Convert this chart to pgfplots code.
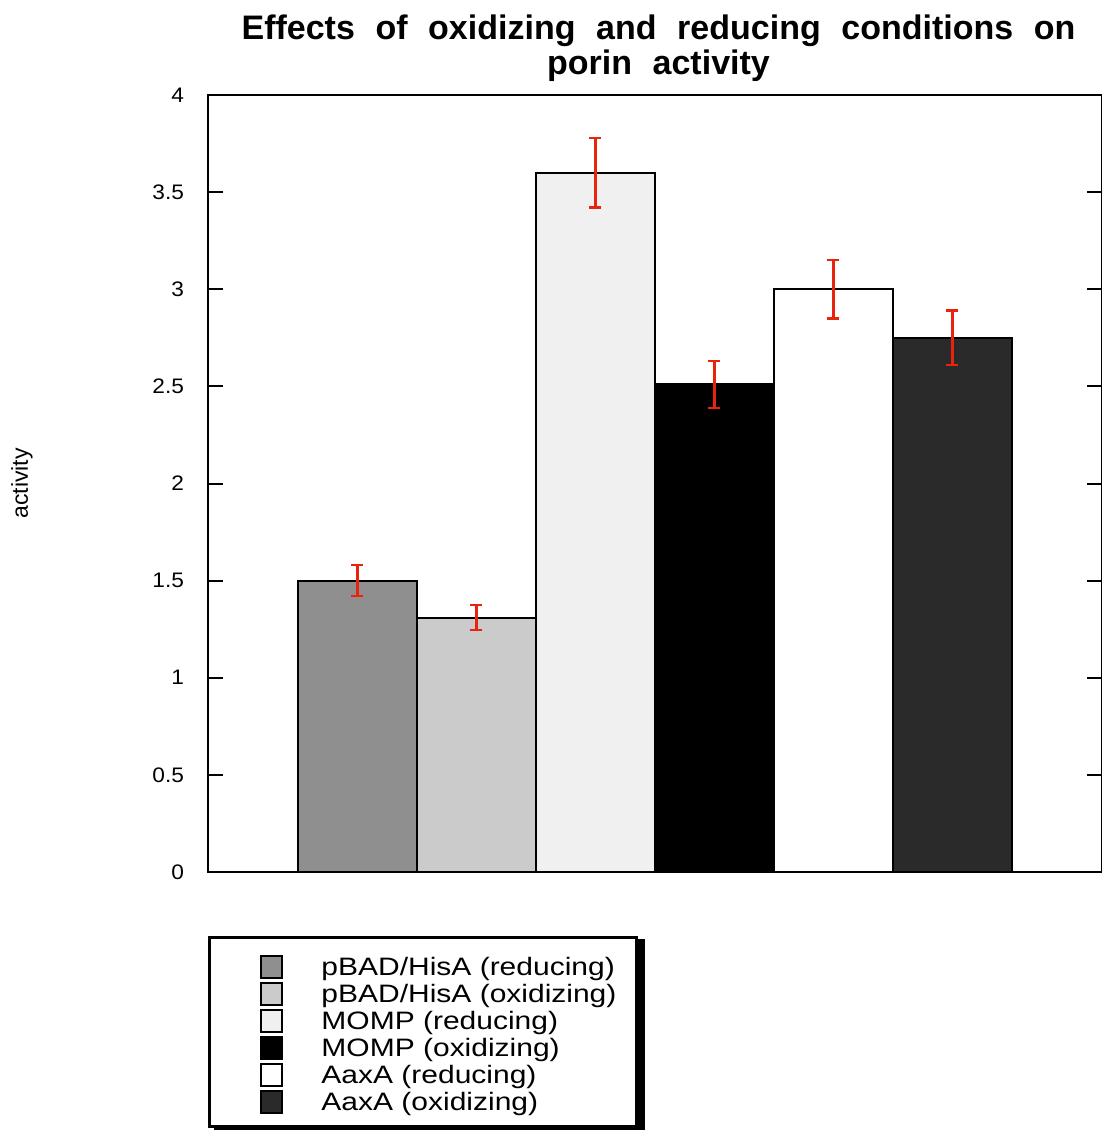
\documentclass[border=0pt]{standalone}
\usepackage{pgfplots}
\pgfplotsset{compat=1.18}
\usepackage{fontspec}
\setmainfont{Liberation Sans}
\newfontfamily\legfont[FakeStretch=1.19]{Liberation Sans}
\newfontfamily\tickfont[FakeStretch=1.08]{Liberation Sans}

\definecolor{errred}{RGB}{232,36,12}
\definecolor{barA}{HTML}{8F8F8F}
\definecolor{barB}{HTML}{CBCBCB}
\definecolor{barC}{HTML}{F0F0F0}
\definecolor{barD}{HTML}{000000}
\definecolor{barE}{HTML}{FFFFFF}
\definecolor{barF}{HTML}{2A2A2A}
\newcommand\tsp{\hskip 10.3pt\relax}

\begin{document}
\begin{tikzpicture}
\begin{axis}[
    name=ax,
    scale only axis,
    width=447pt, height=388.5pt,
    xmin=-0.256, xmax=7.257,
    ymin=0, ymax=4,
    ytick={0,0.5,...,4},
    xtick=\empty,
    tick align=inside,
    major tick length=7.5pt,
    axis line style={line width=1pt},
    every tick/.style={black, line width=1pt},
    /pgf/number format/assume math mode=true,
    yticklabel style={font=\tickfont\fontsize{10.5}{12}\selectfont, xshift=-8.5pt},
    ylabel={activity},
    ylabel style={font=\fontsize{11.5}{12}\selectfont, at={(axis description cs:-0.208,0.5)}, anchor=center},
    title={Effects\tsp of\tsp oxidizing\tsp and\tsp reducing\tsp conditions\tsp on\\porin\tsp activity},
    title style={align=center, inner sep=0pt,
        font=\fontsize{17}{17.5}\selectfont\bfseries,
        at={(axis description cs:0.5,1)}, anchor=south, yshift=0.5pt, xshift=1.75pt},
    ybar, bar width=1,
    every axis plot/.append style={bar shift=0pt, draw=black, line width=1pt,
        error bars/y dir=both, error bars/y explicit,
        error bars/error bar style={color=errred, line width=1.2pt},
        error bars/error mark options={rotate=90, errred, line width=1.2pt, mark size=3pt}},
    legend image code/.code={
        \path (-15.5pt,0) (10.5pt,0);
        \draw[#1, overlay] (0pt,-6.75pt) rectangle (10.5pt,4.25pt);
    },
    legend cell align=left,
    legend style={
        name=leg,
        at={(axis description cs:0,-0.0824)}, anchor=north west,
        draw=black, line width=1.5pt, fill=white,
        inner xsep=10pt, inner ysep=6.75pt,
        row sep=0pt, column sep=19pt,
        nodes={inner sep=0pt, text height=12pt, text depth=1.5pt,
            font=\legfont\fontsize{12.6}{13.5}\selectfont},
    },
]
\addplot[fill=barA] coordinates {(1,1.50) +- (0,0.08)};
\addplot[fill=barB] coordinates {(2,1.31) +- (0,0.065)};
\addplot[fill=barC] coordinates {(3,3.60) +- (0,0.18)};
\addplot[fill=barD] coordinates {(4,2.51) +- (0,0.12)};
\addplot[fill=barE] coordinates {(5,3.00) +- (0,0.15)};
\addplot[fill=barF] coordinates {(6,2.75) +- (0,0.14)};
\legend{pBAD/HisA (reducing), pBAD/HisA (oxidizing), MOMP (reducing),
    MOMP (oxidizing), AaxA (reducing), AaxA (oxidizing)}
\end{axis}
% legend shadow
\fill[black] ([yshift=-1.5pt]leg.north east) rectangle ([xshift=3.5pt,yshift=-3pt]leg.south east);
\fill[black] ([xshift=3pt]leg.south west) rectangle ([xshift=3.5pt,yshift=-3pt]leg.south east);
\pgfresetboundingbox
\path (ax.south west) ++(-104pt,-129pt) rectangle ++(551pt,565pt);
\end{tikzpicture}
\end{document}
